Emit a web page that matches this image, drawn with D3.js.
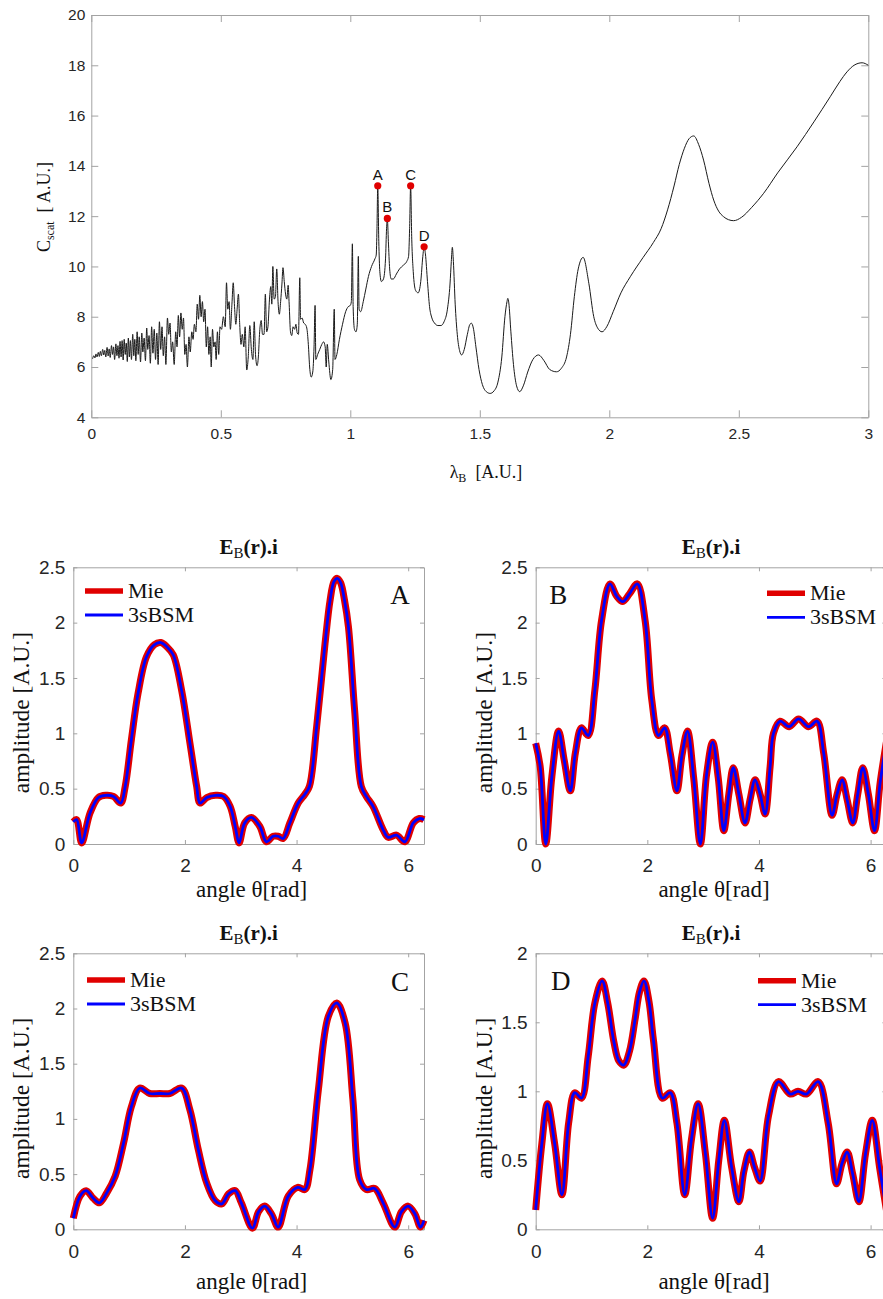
<!DOCTYPE html>
<html>
<head>
<meta charset="utf-8">
<script src="https://cdn.jsdelivr.net/npm/d3@7"></script>
<style>
  body { margin: 0; background: #fff; }
  svg { display: block; }
</style>
</head>
<body>
<svg id="fig" width="883" height="1299"></svg>
<script>
// ---- top panel: scattering cross-section vs lambda_B ----
const lambdaTicks = [0, 0.5, 1, 1.5, 2, 2.5, 3];
const cscatTicks = [4, 6, 8, 10, 12, 14, 16, 18, 20];

const scatCurve = [
  [0.005,6.33],[0.010,6.45],[0.014,6.36],[0.018,6.52],[0.022,6.40],[0.027,6.58],[0.031,6.42],[0.035,6.62],
  [0.039,6.45],[0.044,6.70],[0.048,6.48],[0.052,6.66],[0.056,6.40],[0.061,6.78],[0.065,6.44],[0.069,6.72],
  [0.073,6.38],[0.078,6.85],[0.082,6.50],[0.086,6.80],[0.090,6.30],[0.095,6.92],[0.099,6.45],[0.103,6.85],
  [0.107,6.35],[0.111,7.02],[0.115,6.40],[0.119,7.05],[0.123,6.28],[0.127,7.10],[0.131,6.50],[0.135,6.95],
  [0.139,6.22],[0.143,7.15],[0.147,6.40],[0.151,7.05],[0.155,6.30],[0.160,7.30],[0.164,6.45],[0.168,7.10],
  [0.172,6.25],[0.177,7.40],[0.181,6.50],[0.185,7.20],[0.190,6.20],[0.195,7.35],[0.199,6.60],[0.204,7.15],
  [0.209,6.25],[0.214,7.55],[0.218,6.70],[0.223,7.25],[0.228,6.15],[0.233,7.60],[0.238,6.55],[0.243,7.50],
  [0.248,6.30],[0.253,7.35],[0.258,6.10],[0.263,7.80],[0.268,6.70],[0.273,7.60],[0.278,6.45],[0.283,7.20],
  [0.288,6.10],[0.294,7.95],[0.299,7.30],[0.304,7.75],[0.309,6.60],[0.314,7.00],[0.320,6.10],[0.326,7.40],
  [0.331,6.80],[0.336,8.05],[0.341,7.20],[0.346,8.15],[0.351,7.50],[0.356,7.95],[0.361,6.50],[0.366,6.90],
  [0.371,6.00],[0.377,7.20],[0.382,6.60],[0.388,7.40],[0.393,7.10],[0.398,7.70],[0.404,7.40],[0.409,8.50],
  [0.414,7.90],[0.419,8.85],[0.424,8.00],[0.429,8.60],[0.434,7.80],[0.439,8.30],[0.444,6.80],[0.449,7.60],
  [0.454,6.50],[0.459,7.20],[0.463,6.00],[0.468,7.50],[0.473,6.80],[0.478,7.00],[0.482,6.30],[0.487,7.40],
  [0.492,6.50],[0.497,7.60],[0.503,7.50],[0.510,8.00],[0.517,7.60],[0.522,9.35],[0.527,8.30],[0.532,8.60],
  [0.537,7.50],[0.543,8.50],[0.548,9.35],[0.553,8.40],[0.558,7.70],[0.563,8.30],[0.568,8.90],[0.573,7.70],
  [0.578,6.90],[0.583,7.30],[0.589,6.80],[0.594,7.60],[0.600,5.88],[0.606,6.40],[0.612,7.65],[0.618,6.70],
  [0.624,6.30],[0.629,7.80],[0.634,6.50],[0.640,6.05],[0.645,6.40],[0.650,7.40],[0.656,7.85],[0.661,7.30],
  [0.667,7.30],[0.672,8.90],[0.677,7.40],[0.682,7.60],[0.688,8.70],[0.693,9.20],[0.697,8.50],[0.701,10.00],
  [0.706,8.70],[0.711,8.80],[0.716,9.90],[0.721,8.60],[0.726,8.10],[0.731,8.60],[0.736,9.30],[0.740,9.95],
  [0.745,9.40],[0.750,8.90],[0.755,8.70],[0.760,9.25],[0.764,8.50],[0.769,7.40],[0.774,7.25],[0.779,7.60],
  [0.785,7.50],[0.790,7.70],[0.795,7.35],[0.800,7.30],[0.805,9.55],[0.808,7.90],[0.814,7.95],[0.820,7.75],
  [0.826,7.70],[0.832,7.55],[0.838,6.90],[0.843,6.00],[0.849,5.60],[0.855,5.80],[0.860,6.80],[0.864,8.45],
  [0.867,6.30],[0.874,6.50],[0.882,6.70],[0.890,6.90],[0.897,7.00],[0.903,6.80],[0.907,6.00],[0.911,6.90],
  [0.917,6.20],[0.925,5.50],[0.932,5.90],[0.938,8.30],[0.941,6.30],[0.948,6.50],[0.958,7.10],[0.970,7.70],
  [0.982,8.20],[0.992,8.40],[1.000,8.45],[1.004,8.60],[1.008,10.90],[1.011,8.40],[1.016,7.50],[1.022,7.40],
  [1.027,7.70],[1.031,10.40],[1.034,8.30],[1.040,8.20],[1.050,8.60],[1.060,9.10],[1.070,9.60],[1.082,10.00],
  [1.095,10.30],[1.100,10.45],[1.103,11.50],[1.106,13.21],[1.110,11.00],[1.114,9.80],[1.120,9.40],[1.128,9.50],
  [1.136,10.30],[1.140,11.50],[1.143,11.91],[1.147,11.00],[1.152,9.90],[1.158,9.50],[1.166,9.50],[1.178,9.70],
  [1.190,9.90],[1.205,10.05],[1.218,10.20],[1.225,10.40],[1.229,11.50],[1.233,13.21],[1.237,11.20],[1.243,9.80],
  [1.252,9.05],[1.262,8.95],[1.272,9.40],[1.280,10.40],[1.285,10.78],[1.290,10.50],[1.298,9.40],[1.306,8.40],
  [1.315,7.95],[1.325,7.75],[1.338,7.65],[1.350,7.65],[1.362,7.80],[1.375,8.30],[1.385,9.30],[1.390,10.20],
  [1.394,10.76],[1.398,10.20],[1.405,8.50],[1.413,7.30],[1.422,6.65],[1.430,6.48],[1.440,6.70],[1.452,7.30],
  [1.462,7.70],[1.468,7.74],[1.475,7.55],[1.485,6.80],[1.497,5.90],[1.510,5.30],[1.525,5.02],[1.540,4.95],
  [1.555,5.05],[1.570,5.40],[1.585,6.40],[1.597,8.00],[1.605,8.60],[1.608,8.73],[1.612,8.55],[1.620,7.40],
  [1.630,6.10],[1.642,5.25],[1.654,5.02],[1.668,5.25],[1.685,5.80],[1.705,6.30],[1.727,6.48],[1.748,6.25],
  [1.770,5.90],[1.796,5.81],[1.815,5.95],[1.835,6.40],[1.850,7.30],[1.865,8.80],[1.880,9.90],[1.899,10.36],
  [1.921,9.33],[1.940,8.00],[1.955,7.55],[1.972,7.40],[1.990,7.60],[2.015,8.20],[2.045,8.95],[2.081,9.59],
  [2.130,10.35],[2.170,10.95],[2.200,11.50],[2.225,12.25],[2.250,13.20],[2.270,14.05],[2.290,14.70],[2.308,15.08],
  [2.326,15.19],[2.345,14.85],[2.364,14.23],[2.385,13.30],[2.403,12.64],[2.422,12.20],[2.441,11.98],[2.460,11.86],
  [2.480,11.82],[2.510,11.95],[2.550,12.35],[2.596,12.91],[2.650,13.72],[2.725,14.76],[2.790,15.75],[2.853,16.75],
  [2.890,17.35],[2.918,17.74],[2.945,18.00],[2.976,18.10],[3.000,18.00]
];

const peakNames = ["A", "B", "C", "D"];
const peakLambda = [1.106, 1.143, 1.233, 1.285];
const peakCscat = [13.21, 11.91, 13.21, 10.78];

// ---- bottom panels: field amplitude vs angle ----
const thetaTicks = [0, 2, 4, 6];
const ampTicksA = [0, 0.5, 1, 1.5, 2, 2.5];
const ampTicksD = [0, 0.5, 1, 1.5, 2];
const seriesNames = ["Mie", "3sBSM"];

const fieldA = [
  [0,0.20],[0.06,0.22],[0.15,0.01],[0.30,0.28],[0.45,0.42],[0.58,0.44],[0.72,0.43],[0.85,0.37],[0.93,0.52],
  [1.04,0.94],[1.16,1.36],[1.31,1.69],[1.45,1.80],[1.57,1.82],[1.68,1.78],[1.79,1.71],[1.94,1.39],[2.09,0.91],
  [2.21,0.52],[2.27,0.37],[2.39,0.42],[2.55,0.44],[2.69,0.43],[2.81,0.34],[2.90,0.16],[2.97,0.01],[3.07,0.19],
  [3.19,0.24],[3.34,0.16],[3.46,0.02],[3.58,0.07],[3.67,0.07],[3.76,0.05],[3.88,0.19],[4.03,0.37],[4.15,0.45],
  [4.23,0.52],[4.36,1.06],[4.51,1.81],[4.60,2.20],[4.67,2.37],[4.73,2.40],[4.79,2.36],[4.86,2.20],[4.93,1.96],
  [5.04,1.21],[5.16,0.52],[5.25,0.43],[5.37,0.34],[5.55,0.13],[5.64,0.06],[5.79,0.08],[5.94,0.02],[6.09,0.19],
  [6.20,0.23],[6.283,0.22]
];
const fieldB = [
  [0,0.91],[0.08,0.70],[0.18,0.0],[0.29,0.61],[0.41,1.02],[0.51,0.76],[0.62,0.48],[0.71,0.82],[0.82,1.05],
  [0.94,0.98],[1.06,1.39],[1.18,2.02],[1.33,2.35],[1.45,2.24],[1.56,2.19],[1.68,2.26],[1.82,2.35],[1.96,2.02],
  [2.08,1.30],[2.20,0.98],[2.31,1.05],[2.41,0.82],[2.53,0.48],[2.62,0.80],[2.72,1.02],[2.83,0.60],[2.95,0.0],
  [3.06,0.62],[3.17,0.92],[3.27,0.60],[3.37,0.12],[3.46,0.45],[3.54,0.69],[3.64,0.45],[3.75,0.19],[3.84,0.40],
  [3.93,0.58],[4.02,0.45],[4.11,0.27],[4.20,0.70],[4.26,1.00],[4.38,1.11],[4.54,1.06],[4.71,1.13],[4.89,1.06],
  [5.04,1.11],[5.16,0.82],[5.31,0.26],[5.40,0.45],[5.49,0.58],[5.58,0.40],[5.68,0.19],[5.77,0.45],[5.86,0.69],
  [5.96,0.45],[6.07,0.12],[6.17,0.55],[6.283,0.92]
];
const fieldC = [
  [0,0.10],[0.12,0.30],[0.23,0.35],[0.36,0.28],[0.47,0.24],[0.60,0.33],[0.75,0.48],[0.90,0.78],[1.04,1.11],
  [1.19,1.28],[1.37,1.23],[1.55,1.23],[1.73,1.23],[1.94,1.28],[2.09,1.08],[2.24,0.72],[2.39,0.42],[2.54,0.26],
  [2.66,0.23],[2.78,0.32],[2.90,0.35],[3.01,0.24],[3.21,0.01],[3.32,0.16],[3.43,0.21],[3.55,0.14],[3.67,0.02],
  [3.85,0.30],[4.02,0.38],[4.15,0.36],[4.24,0.54],[4.39,1.26],[4.57,1.93],[4.72,2.05],[4.87,1.87],[5.01,1.17],
  [5.13,0.45],[5.25,0.36],[5.40,0.37],[5.55,0.24],[5.76,0.02],[5.88,0.16],[6.00,0.21],[6.12,0.14],[6.22,0.02],
  [6.283,0.08]
];
const fieldD = [
  [0,0.14],[0.11,0.62],[0.21,0.91],[0.34,0.62],[0.47,0.25],[0.59,0.77],[0.70,0.99],[0.82,0.95],[0.94,1.25],
  [1.06,1.64],[1.19,1.80],[1.29,1.64],[1.40,1.36],[1.49,1.22],[1.58,1.19],[1.68,1.29],[1.78,1.52],[1.86,1.72],
  [1.94,1.80],[2.03,1.65],[2.11,1.37],[2.27,0.95],[2.41,0.99],[2.53,0.77],[2.67,0.25],[2.79,0.65],[2.91,0.91],
  [3.04,0.55],[3.17,0.08],[3.28,0.50],[3.38,0.79],[3.51,0.45],[3.64,0.20],[3.73,0.42],[3.83,0.56],[3.92,0.45],
  [4.02,0.35],[4.17,0.82],[4.35,1.07],[4.56,0.98],[4.70,1.00],[4.85,0.98],[5.06,1.07],[5.24,0.77],[5.39,0.33],
  [5.49,0.48],[5.58,0.56],[5.68,0.40],[5.79,0.20],[5.91,0.55],[6.03,0.79],[6.16,0.45],[6.283,0.14]
];

const sans = "'Liberation Sans', Arial, sans-serif";
const serif = "'Liberation Serif', 'Times New Roman', serif";
const axisColor = "#a3a3a3";
const textColor = "#262626";

const svg = d3.select("#fig");

function drawAxes(g, x, y, o) {
  const [bottom, top] = y.range();
  const [left, right] = x.range();
  const fmt = (d) => String(d);

  g.append("g")
    .attr("transform", `translate(0,${bottom})`)
    .call(d3.axisBottom(x).tickValues(o.xTicks).tickSize(-o.tick).tickSizeOuter(0).tickPadding(o.xPad).tickFormat(fmt));
  g.append("g")
    .attr("transform", `translate(${left},0)`)
    .call(d3.axisLeft(y).tickValues(o.yTicks).tickSize(-o.tick).tickSizeOuter(0).tickPadding(o.yPad).tickFormat(fmt));
  g.append("g")
    .attr("transform", `translate(0,${top})`)
    .call(d3.axisTop(x).tickValues(o.xTicks).tickSize(-o.tick).tickSizeOuter(0).tickFormat(""));
  g.append("g")
    .attr("transform", `translate(${right},0)`)
    .call(d3.axisRight(y).tickValues(o.yTicks).tickSize(-o.tick).tickSizeOuter(0).tickFormat(""));

  g.selectAll(".domain, .tick line").attr("stroke", axisColor).attr("stroke-width", 1);
  g.selectAll(".tick text")
    .attr("fill", textColor)
    .style("font-family", sans)
    .style("font-size", o.fontSize + "px");
}

// top panel
const xTop = d3.scaleLinear().domain([0, 3]).range([91.3, 868.3]);
const yTop = d3.scaleLinear().domain([4, 20]).range([417.3, 15]);
const gTop = svg.append("g");

drawAxes(gTop, xTop, yTop, { xTicks: lambdaTicks, yTicks: cscatTicks, tick: 7, xPad: 11, yPad: 6, fontSize: 15.5 });

const scatLine = d3.line()
  .curve(d3.curveMonotoneX)
  .x((d) => xTop(d[0]))
  .y((d) => yTop(d[1]));

gTop.append("path")
  .datum(scatCurve)
  .attr("fill", "none")
  .attr("stroke", "#1a1a1a")
  .attr("stroke-width", 1)
  .attr("d", scatLine);

const peaks = peakNames.map((n, i) => ({ name: n, x: peakLambda[i], y: peakCscat[i] }));

gTop.selectAll("circle.peak")
  .data(peaks)
  .enter()
  .append("circle")
  .attr("class", "peak")
  .attr("cx", (d) => xTop(d.x))
  .attr("cy", (d) => yTop(d.y))
  .attr("r", 3.6)
  .attr("fill", "#e00000");

gTop.selectAll("text.peak")
  .data(peaks)
  .enter()
  .append("text")
  .attr("class", "peak")
  .attr("x", (d) => xTop(d.x))
  .attr("y", (d) => yTop(d.y) - 6)
  .attr("text-anchor", "middle")
  .style("font-family", sans)
  .style("font-size", "15px")
  .attr("fill", "#111")
  .text((d) => d.name);

const yLab = gTop.append("text")
  .attr("transform", "translate(50,207) rotate(-90)")
  .attr("text-anchor", "middle")
  .style("font-family", serif)
  .style("font-size", "18px")
  .attr("fill", "#111");
yLab.append("tspan").text("C");
yLab.append("tspan").attr("dy", 4).style("font-size", "12px").text("scat");
yLab.append("tspan").attr("dy", -4).text("\u00a0\u00a0[ A.U.]");

const xLab = gTop.append("text")
  .attr("x", 486)
  .attr("y", 478)
  .attr("text-anchor", "middle")
  .style("font-family", serif)
  .style("font-size", "18px")
  .attr("fill", "#111");
xLab.append("tspan").text("\u03bb");
xLab.append("tspan").attr("dy", 4).style("font-size", "12px").text("B");
xLab.append("tspan").attr("dy", -4).text("\u00a0\u00a0[A.U.]");

// bottom panels
const panels = [
  { name: "A", data: fieldA, yMax: 2.5, yTicks: ampTicksA, left: 73.3, top: 567.3, bottom: 844,
    leg: [11.7, 23.7], letter: [326.7, 37], title: 554, xlab: 897 },
  { name: "B", data: fieldB, yMax: 2.5, yTicks: ampTicksA, left: 535.7, top: 567.3, bottom: 844,
    leg: [231.3, 26], letter: [22.6, 37], title: 554, xlab: 897 },
  { name: "C", data: fieldC, yMax: 2.5, yTicks: ampTicksA, left: 73.3, top: 953.3, bottom: 1229.3,
    leg: [13.7, 26.7], letter: [326.7, 38], title: 940, xlab: 1289 },
  { name: "D", data: fieldD, yMax: 2, yTicks: ampTicksD, left: 535.7, top: 953.3, bottom: 1229.3,
    leg: [222.3, 27.4], letter: [25, 36.5], title: 940, xlab: 1289 }
];
const panelWidth = 350.7;

panels.forEach((p) => {
  const x = d3.scaleLinear().domain([0, 2 * Math.PI]).range([p.left, p.left + panelWidth]);
  const y = d3.scaleLinear().domain([0, p.yMax]).range([p.bottom, p.top]);
  const g = svg.append("g");

  drawAxes(g, x, y, { xTicks: thetaTicks, yTicks: p.yTicks, tick: 4, xPad: 15, yPad: 8, fontSize: 19 });

  const line = d3.line()
    .curve(d3.curveCatmullRom.alpha(0.5))
    .x((d) => x(d[0]))
    .y((d) => y(d[1]));

  g.append("path")
    .datum(p.data)
    .attr("fill", "none")
    .attr("stroke", "#e00000")
    .attr("stroke-width", 7)
    .attr("stroke-linejoin", "round")
    .attr("d", line);
  g.append("path")
    .datum(p.data)
    .attr("fill", "none")
    .attr("stroke", "#0000ff")
    .attr("stroke-width", 2.8)
    .attr("stroke-linejoin", "round")
    .attr("d", line);

  // legend
  const lx = p.left + p.leg[0];
  const ly = p.top + p.leg[1];
  const legend = g.append("g");
  legend.selectAll("line")
    .data(seriesNames)
    .enter()
    .append("line")
    .attr("x1", lx)
    .attr("x2", lx + 38)
    .attr("y1", (d, i) => ly + i * 24)
    .attr("y2", (d, i) => ly + i * 24)
    .attr("stroke", (d, i) => (i === 0 ? "#e00000" : "#0000ff"))
    .attr("stroke-width", (d, i) => (i === 0 ? 5.5 : 2.8));
  legend.selectAll("text")
    .data(seriesNames)
    .enter()
    .append("text")
    .attr("x", lx + 43)
    .attr("y", (d, i) => ly + i * 24 + 7)
    .style("font-family", serif)
    .style("font-size", "22px")
    .attr("fill", "#111")
    .text((d) => d);

  g.append("text")
    .attr("x", p.left + p.letter[0])
    .attr("y", p.top + p.letter[1])
    .attr("text-anchor", "middle")
    .style("font-family", serif)
    .style("font-size", "27px")
    .attr("fill", "#111")
    .text(p.name);

  const cx = p.left + panelWidth / 2;
  const title = g.append("text")
    .attr("x", cx)
    .attr("y", p.title)
    .attr("text-anchor", "middle")
    .style("font-family", serif)
    .style("font-size", "21px")
    .style("font-weight", "bold")
    .attr("fill", "#111");
  title.append("tspan").text("E");
  title.append("tspan").attr("dy", 4).style("font-size", "15px").style("font-weight", "normal").text("B");
  title.append("tspan").attr("dy", -4).text("(r).i");

  g.append("text")
    .attr("x", cx + 3)
    .attr("y", p.xlab)
    .attr("text-anchor", "middle")
    .style("font-family", serif)
    .style("font-size", "23px")
    .attr("fill", "#111")
    .text("angle \u03b8[rad]");

  g.append("text")
    .attr("transform", `translate(${p.left - 44},${(p.top + p.bottom) / 2 + 7}) rotate(-90)`)
    .attr("text-anchor", "middle")
    .style("font-family", serif)
    .style("font-size", "23.5px")
    .attr("fill", "#111")
    .text("amplitude [A.U.]");
});
</script>
</body>
</html>
